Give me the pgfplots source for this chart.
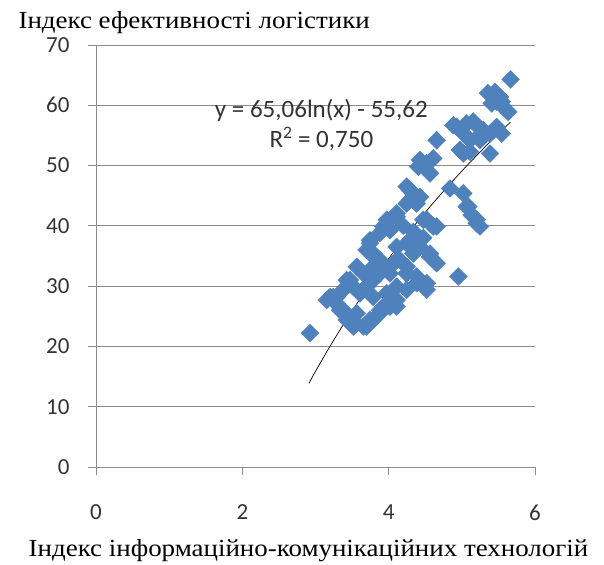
\documentclass[border=0pt]{standalone}
\usepackage{fontspec}
\setmainfont{Liberation Serif}
\newfontfamily\wideserif[FakeStretch=1.1]{Liberation Serif}
\newfontfamily\calibri{Carlito}
\usepackage{pgfplots}
\pgfplotsset{compat=1.18}
\definecolor{ptblue}{HTML}{4F81BD}
\definecolor{gridgray}{HTML}{8C8C8C}
\begin{document}
\begin{tikzpicture}[x=1pt,y=1pt]
\path[use as bounding box] (0,0) rectangle (604,564);
\begin{axis}[
  at={(96pt,97pt)}, anchor=south west,
  scale only axis, width=439pt, height=422pt,
  xmin=0, xmax=6, ymin=0, ymax=70,
  xtick={0,2,4,6}, ytick={0,10,...,70},
  axis x line*=bottom, axis y line*=left,
  axis line style={gridgray, line width=0.8pt, -},
  ymajorgrids, grid style={gridgray, line width=0.8pt},
  tick align=outside, major tick length=8pt,
  tick style={gridgray, line width=0.8pt},
  /pgf/number format/assume math mode=true,
  tick label style={font=\calibri\fontsize{23}{23}\selectfont, text=black!80},
  yticklabel style={xshift=-15pt},
  xticklabel style={yshift=-26pt},
  xlabel={Індекс інформаційно-комунікаційних технологій},
  ylabel={Індекс ефективності логістики},
  label style={font=\wideserif\fontsize{24.5}{26}\selectfont},
  xlabel style={at={(axis description cs:0.484,-0.211)}, anchor=base},
  ylabel style={at={(axis description cs:-0.1845,1.040)}, anchor=base west, rotate=-90},
  clip=false,
]
\addplot[only marks, mark=square*, mark size=6.3pt, mark options={rotate=45, fill=ptblue, draw=ptblue}] table {
x y
5.667 64.3
5.357 62.0
5.453 62.2
5.521 61.4
5.476 60.6
5.567 59.7
5.635 58.9
5.408 60.3
5.545 60.6
4.883 56.7
4.975 55.9
5.066 57.0
5.157 57.3
5.225 56.4
5.293 55.9
5.385 55.3
5.476 56.4
5.043 55.1
5.111 54.2
5.020 52.0
5.111 52.3
5.385 52.0
5.545 55.3
5.225 54.8
4.930 56.4
5.248 54.2
4.975 52.6
4.656 54.2
4.610 51.2
4.496 49.8
4.565 48.7
4.428 50.9
4.520 50.4
4.405 49.8
4.838 46.2
5.020 45.4
5.089 43.2
5.134 41.8
5.248 39.9
5.203 40.4
4.952 31.6
4.291 45.9
4.428 44.8
4.246 43.7
4.246 46.5
4.337 45.4
4.291 44.3
4.383 43.7
4.018 41.0
3.927 39.9
4.109 41.5
3.973 41.0
4.109 42.1
4.473 41.0
4.565 40.4
4.656 39.9
4.520 41.0
4.610 39.9
3.881 38.8
4.018 39.3
3.744 37.1
3.699 36.0
3.790 34.9
3.744 37.6
3.790 35.4
4.291 37.6
4.428 36.5
4.565 34.9
4.565 35.4
4.656 33.8
4.109 34.3
4.246 33.2
4.383 31.6
4.520 30.5
4.018 32.1
3.471 31.0
3.380 29.4
3.290 28.2
3.653 29.4
3.790 28.2
3.927 26.6
4.109 26.6
3.563 25.5
3.744 24.4
4.246 29.4
4.383 30.5
4.520 29.4
2.925 22.2
3.198 28.2
3.290 27.1
3.426 31.0
3.517 29.9
3.380 26.0
3.471 24.9
3.563 23.8
3.699 23.3
3.790 24.4
4.109 27.7
4.018 26.6
3.881 25.5
5.066 43.2
5.203 41.0
4.018 33.2
4.155 34.3
4.246 32.1
4.109 29.9
3.881 32.1
3.973 28.8
3.790 31.0
3.653 32.1
3.608 28.8
3.881 34.3
4.109 36.5
4.246 37.1
4.337 35.4
3.790 33.2
3.563 33.2
3.243 28.2
3.153 27.7
3.335 26.0
3.426 24.4
3.517 23.3
3.653 23.3
3.881 26.0
3.699 29.9
4.383 38.5
4.200 40.0
4.337 39.0
4.473 38.0
};
\addplot[black, line width=0.7pt, smooth] coordinates {
(2.91,13.87) (3.0,15.86) (3.2,20.06) (3.4,24.00) (3.6,27.72) (3.8,31.24)
(4.0,34.57) (4.2,37.75) (4.4,40.77) (4.6,43.67) (4.8,46.43) (5.0,49.09)
(5.2,51.64) (5.4,54.10) (5.665,57.21)
};
\node[font=\calibri\fontsize{25}{30}\selectfont, text=black!80, align=center, anchor=center]
  at (axis cs:3.08,56.7) {y = 65,06ln(x) - 55,62\\R\textsuperscript{2} = 0,750};
\end{axis}
\end{tikzpicture}
\end{document}
